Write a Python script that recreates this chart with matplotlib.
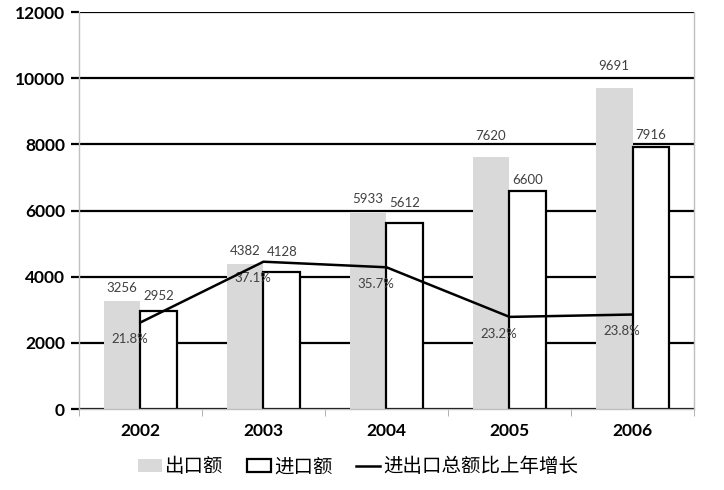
import numpy as np
import matplotlib.pyplot as plt
from matplotlib.patches import Patch
from matplotlib.lines import Line2D

years = ['2002', '2003', '2004', '2005', '2006']
export = [3256, 4382, 5933, 7620, 9691]
imports = [2952, 4128, 5612, 6600, 7916]
growth = [21.8, 37.1, 35.7, 23.2, 23.8]

# label lift above bar tops (points), nudged to keep clear of gridlines
exp_lift = [9.5, 9.5, 10, 15, 16]
imp_lift = [11, 15, 14.5, 8, 8.5]

plt.rcParams['font.family'] = ['Lato', 'Noto Sans CJK SC', 'DejaVu Sans']

fig = plt.figure(figsize=(7.24, 4.90), dpi=100)
ax = fig.add_axes([0.109, 0.1653, 0.8496, 0.8102])
x = np.arange(len(years))
w = 0.3

ax.set_axisbelow(True)
ax.yaxis.grid(True, color='black', linewidth=1.6)
ax.bar(x - w / 2, export, w, color='#d9d9d9', zorder=2)
ax.bar(x + w / 2, imports, w, color='white', edgecolor='black', linewidth=1.6, zorder=2)

for i in range(len(years)):
    ax.annotate(str(export[i]), (x[i] - w / 2, export[i]), xytext=(0, exp_lift[i]),
                textcoords='offset points', ha='center', va='center',
                fontsize=9.5, color='#404040')
    ax.annotate(str(imports[i]), (x[i] + w / 2, imports[i]), xytext=(0, imp_lift[i]),
                textcoords='offset points', ha='center', va='center',
                fontsize=9.5, color='#404040')

ax.set_xlim(-0.5, len(years) - 0.5)
ax.set_ylim(0, 12000)
ax.set_yticks(range(0, 12001, 2000))
ax.set_xticks(x)
ax.set_xticklabels(years)
ax.set_xticks(np.arange(-0.5, len(years), 1), minor=True)
for lab in ax.get_xticklabels() + ax.get_yticklabels():
    lab.set_fontweight('bold')
    lab.set_fontsize(12.5)
ax.tick_params(axis='x', which='major', length=0, pad=10)
ax.tick_params(axis='x', which='minor', length=5, color='#a6a6a6')
ax.tick_params(axis='y', length=6, width=1.6, color='black', pad=4)
for s in ['left', 'bottom', 'right']:
    ax.spines[s].set_color('#bfbfbf')
    ax.spines[s].set_linewidth(1)
ax.spines['top'].set_visible(False)

ax2 = ax.twinx()
ax2.set_ylim(0, 100)
ax2.plot(x, growth, color='black', linewidth=1.8, zorder=5)
for i in range(len(years)):
    ax2.annotate(f'{growth[i]}%', (x[i], growth[i]), xytext=(-8, -12),
                 textcoords='offset points', ha='center', va='center',
                 fontsize=9.5, color='#404040')
ax2.set_yticks([])
for s in ax2.spines.values():
    s.set_visible(False)

handles = [Patch(facecolor='#d9d9d9', edgecolor='none'),
           Patch(facecolor='white', edgecolor='black', linewidth=1.6),
           Line2D([0], [0], color='black', linewidth=1.8)]
labels = ['出口额', '进口额', '进出口总额比上年增长']
fig.legend(handles, labels, loc='center', bbox_to_anchor=(0.495, 0.047), ncol=3,
           frameon=False, prop={'family': ['Noto Sans CJK SC'], 'size': 14},
           handlelength=1.2, handletextpad=0.2, columnspacing=1.2)

plt.savefig('out.png', dpi=100)
